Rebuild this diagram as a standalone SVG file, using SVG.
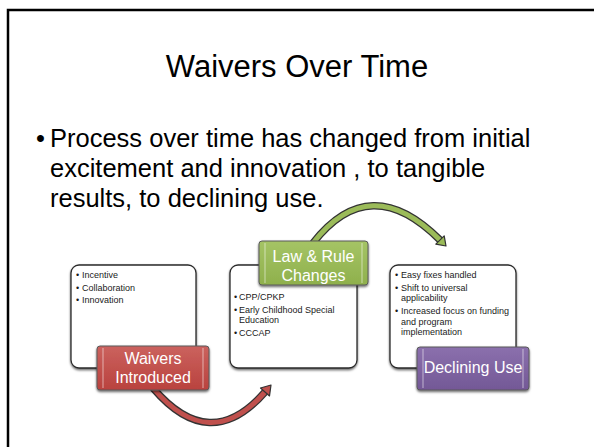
<svg xmlns="http://www.w3.org/2000/svg" width="594" height="447" viewBox="0 0 594 447">
<defs>
  <linearGradient id="gRed" x1="0" y1="0" x2="0" y2="1"><stop offset="0" stop-color="#cb625e"/><stop offset="1" stop-color="#b9423e"/></linearGradient>
  <linearGradient id="gGreen" x1="0" y1="0" x2="0" y2="1"><stop offset="0" stop-color="#a5c465"/><stop offset="1" stop-color="#8fb04c"/></linearGradient>
  <linearGradient id="gPurple" x1="0" y1="0" x2="0" y2="1"><stop offset="0" stop-color="#8b70ad"/><stop offset="1" stop-color="#735896"/></linearGradient>
  <filter id="sh" x="-10%" y="-10%" width="130%" height="130%"><feDropShadow dx="0" dy="1.5" stdDeviation="1" flood-color="#000" flood-opacity="0.6"/></filter>
</defs>
<style>
  .t{font-family:"Liberation Sans",Arial,sans-serif;fill:#000}
  .sm{font-size:9px;fill:#1a1a1a}
  .lbl{font-family:"Liberation Sans",Arial,sans-serif;font-size:16px;fill:#fff;text-anchor:middle}
  .card{fill:#fff;stroke:#2a2a2a;stroke-width:1.3}
  .cbox{stroke:#5a5a5a;stroke-width:1}
  .hl{stroke:#fff;stroke-opacity:0.45;stroke-width:1.2}
  .aout{fill:none;stroke:#333;stroke-width:7.5}
  .head{stroke:#333;stroke-width:1.2;stroke-linejoin:round}
</style>
<rect x="8" y="10" width="600" height="450" fill="#fff" stroke="#000" stroke-width="2.5"/>
<text class="t" x="297" y="77" font-size="31" text-anchor="middle">Waivers Over Time</text>
<text class="t" x="36" y="147" font-size="25.5">•</text>
<text class="t" x="50" y="147" font-size="25.5">Process over time has changed from initial</text>
<text class="t" x="50" y="177" font-size="25.5">excitement and innovation , to tangible</text>
<text class="t" x="50" y="207" font-size="25.5">results, to declining use.</text>

<g id="connectors">
  <path class="aout" d="M 313 243 Q 370 170 440 240"/>
  <path d="M 313 243 Q 370 170 440 240" fill="none" stroke="#9bbb59" stroke-width="5"/>
  <polygon class="head" fill="#9bbb59" points="446,246 435.8,244.2 444.2,235.8"/>
  <path class="aout" d="M 153 388 Q 210 455 265 392"/>
  <path d="M 153 388 Q 210 455 265 392" fill="none" stroke="#c0504d" stroke-width="5"/>
  <polygon class="head" fill="#c0504d" points="271,385 269.5,396 260.5,388"/>
</g>

<g id="node-waivers">
  <rect class="card" x="71" y="265" width="125" height="103" rx="8" filter="url(#sh)"/>
  <text class="t sm" x="76" y="278">•</text><text class="t sm" x="82" y="278">Incentive</text>
  <text class="t sm" x="76" y="291">•</text><text class="t sm" x="82" y="291">Collaboration</text>
  <text class="t sm" x="76" y="303">•</text><text class="t sm" x="82" y="303">Innovation</text>
  <rect class="cbox" x="97" y="346" width="112" height="44" rx="3" fill="url(#gRed)" filter="url(#sh)"/>
  <line class="hl" x1="103" y1="348" x2="103" y2="388"/><line class="hl" x1="203" y1="348" x2="203" y2="388"/>
  <text class="lbl" x="153" y="364">Waivers</text>
  <text class="lbl" x="153" y="383">Introduced</text>
</g>

<g id="node-law">
  <rect class="card" x="230" y="265" width="127" height="103" rx="8" filter="url(#sh)"/>
  <text class="t sm" x="234" y="300">•</text><text class="t sm" x="239" y="300">CPP/CPKP</text>
  <text class="t sm" x="234" y="313">•</text><text class="t sm" x="239" y="313">Early Childhood Special</text>
  <text class="t sm" x="239" y="323">Education</text>
  <text class="t sm" x="234" y="336">•</text><text class="t sm" x="239" y="336">CCCAP</text>
  <rect class="cbox" x="259" y="241" width="109" height="44" rx="3" fill="url(#gGreen)" filter="url(#sh)"/>
  <line class="hl" x1="265" y1="243" x2="265" y2="283"/><line class="hl" x1="362" y1="243" x2="362" y2="283"/>
  <text class="lbl" x="313.5" y="262">Law &amp; Rule</text>
  <text class="lbl" x="313.5" y="281">Changes</text>
</g>

<g id="node-declining">
  <rect class="card" x="390" y="265" width="126" height="103" rx="8" filter="url(#sh)"/>
  <text class="t sm" x="395" y="278">•</text><text class="t sm" x="401" y="278">Easy fixes handled</text>
  <text class="t sm" x="395" y="291">•</text><text class="t sm" x="401" y="291">Shift to universal</text>
  <text class="t sm" x="401" y="301">applicability</text>
  <text class="t sm" x="395" y="314">•</text><text class="t sm" x="401" y="314">Increased focus on funding</text>
  <text class="t sm" x="401" y="325">and program</text>
  <text class="t sm" x="401" y="335">implementation</text>
  <rect class="cbox" x="417" y="347" width="112" height="43" rx="3" fill="url(#gPurple)" filter="url(#sh)"/>
  <line class="hl" x1="423" y1="349" x2="423" y2="388"/><line class="hl" x1="523" y1="349" x2="523" y2="388"/>
  <text class="lbl" x="473" y="373">Declining Use</text>
</g>
</svg>
